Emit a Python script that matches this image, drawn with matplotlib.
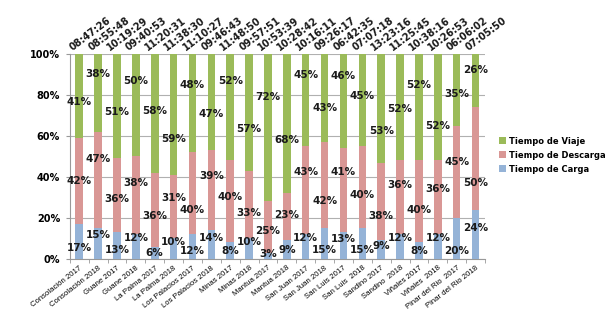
import numpy as np
import matplotlib
matplotlib.use("Agg")
import matplotlib.pyplot as plt
from matplotlib.ticker import FuncFormatter, FixedLocator

categories = ["Consolación 2017", "Consolación 2018", "Guane 2017", "Guane 2018",
              "La Palma 2017", "La Palma 2018", "Los Palacios 2017", "Los Palacios 2018",
              "Minas 2017", "Minas 2018", "Mantua 2017", "Mantua 2018",
              "San Juan 2017", "San Juan 2018", "San Luis 2017", "San Luis  2018",
              "Sandino 2017", "Sandino  2018", "Viñales 2017", "Viñales  2018",
              "Pinar del Rio  2017", "Pinar del Rio 2018"]
times = ["08:47:26", "08:55:48", "10:19:29", "09:40:53", "11:20:31", "11:38:30",
         "11:10:27", "09:46:43", "11:48:50", "09:57:51", "10:53:39", "10:28:42",
         "10:16:11", "09:26:17", "06:42:35", "07:07:18", "13:23:16", "11:25:45",
         "10:38:16", "10:26:53", "06:06:02", "07:05:50"]
carga = [17, 15, 13, 12, 6, 10, 12, 14, 8, 10, 3, 9, 12, 15, 13, 15, 9, 12, 8, 12, 20, 24]
descarga = [42, 47, 36, 38, 36, 31, 40, 39, 40, 33, 25, 23, 43, 42, 41, 40, 38, 36, 40, 36, 45, 50]
viaje = [41, 38, 51, 50, 58, 59, 48, 47, 52, 57, 72, 68, 45, 43, 46, 45, 53, 52, 52, 52, 35, 26]

# data labels were dragged around in the original, offsets from segment centre (in %)
carga_nudge = [-3, 4, -2, 4, 0, 3, -2, 3, 0, 3, 0, 0, 4, -3, 3, -3, 2, 4, 0, 4, -6, 3]
desc_nudge = [0, 10, -2, 6, -3, 4, -8, 7, 2, -4, -2, 1, 9, -8, 9, -4, -7, 6, -4, 4, 5, -12]
viaje_nudge = [-3, 9, -3, 12, 1, -12, 9, -6, 13, -8, 15, -8, 12, -5, 12, 2, -11, -1, 11, -9, -2, 5]

c_carga = "#95B3D7"
c_desc = "#D99795"
c_viaje = "#9BBB59"

fig = plt.figure(figsize=(6.07, 3.10), dpi=100)
ax = fig.add_axes([0.115, 0.165, 0.684, 0.661])

x = np.arange(len(categories))
w = 0.4
carga = np.array(carga)
descarga = np.array(descarga)
viaje = np.array(viaje)

ax.bar(x, carga, w, color=c_carga, label="Tiempo de Carga", zorder=3)
ax.bar(x, descarga, w, bottom=carga, color=c_desc, label="Tiempo de Descarga", zorder=3)
ax.bar(x, viaje, w, bottom=carga + descarga, color=c_viaje, label="Tiempo de Viaje", zorder=3)

lab = dict(ha="center", va="center", fontsize=7.5, fontweight="bold", color="#1a1a1a", zorder=5)
for i in range(len(x)):
    yc = max(carga[i] / 2 + carga_nudge[i], 2.5)
    ax.text(x[i], yc, f"{carga[i]}%", **lab)
    ax.text(x[i], carga[i] + descarga[i] / 2 + desc_nudge[i], f"{descarga[i]}%", **lab)
    ax.text(x[i], carga[i] + descarga[i] + viaje[i] / 2 + viaje_nudge[i], f"{viaje[i]}%", **lab)
    ax.text(x[i] - 0.3, 100.5, times[i], rotation=37, ha="left", va="bottom",
            fontsize=7, fontweight="bold", color="#1a1a1a", rotation_mode="anchor")

ax.set_xlim(-0.5, len(x) - 0.5)
ax.set_ylim(0, 100)
ax.set_yticks([0, 20, 40, 60, 80, 100])
ax.yaxis.set_major_formatter(FuncFormatter(lambda v, p: f"{int(v)}%"))
ax.grid(axis="y", color="#b0b0b0", linewidth=0.8, zorder=0)
for t in ax.get_yticklabels():
    t.set_fontweight("bold")
    t.set_fontsize(7)

ax.set_xticks(x)
ax.set_xticklabels(categories, rotation=38, ha="right", rotation_mode="anchor",
                   fontsize=5.6, fontfamily="Liberation Sans")
ax.xaxis.set_minor_locator(FixedLocator(np.arange(-0.5, len(x), 1)))
ax.tick_params(axis="x", which="major", length=0, pad=4)
ax.tick_params(axis="x", which="minor", length=3, color="#999999")
ax.tick_params(axis="y", length=3, color="#999999", pad=4)

for sp in ["top", "right"]:
    ax.spines[sp].set_visible(False)
ax.spines["left"].set_color("#999999")
ax.spines["bottom"].set_color("#999999")

h, l = ax.get_legend_handles_labels()
leg = fig.legend(h[::-1], l[::-1], loc="center left", bbox_to_anchor=(0.81, 0.5),
                 frameon=False, handlelength=0.8, handleheight=0.8,
                 handletextpad=0.4, labelspacing=0.6, prop={"weight": "bold", "size": 6})

fig.savefig("out.png", dpi=100)
